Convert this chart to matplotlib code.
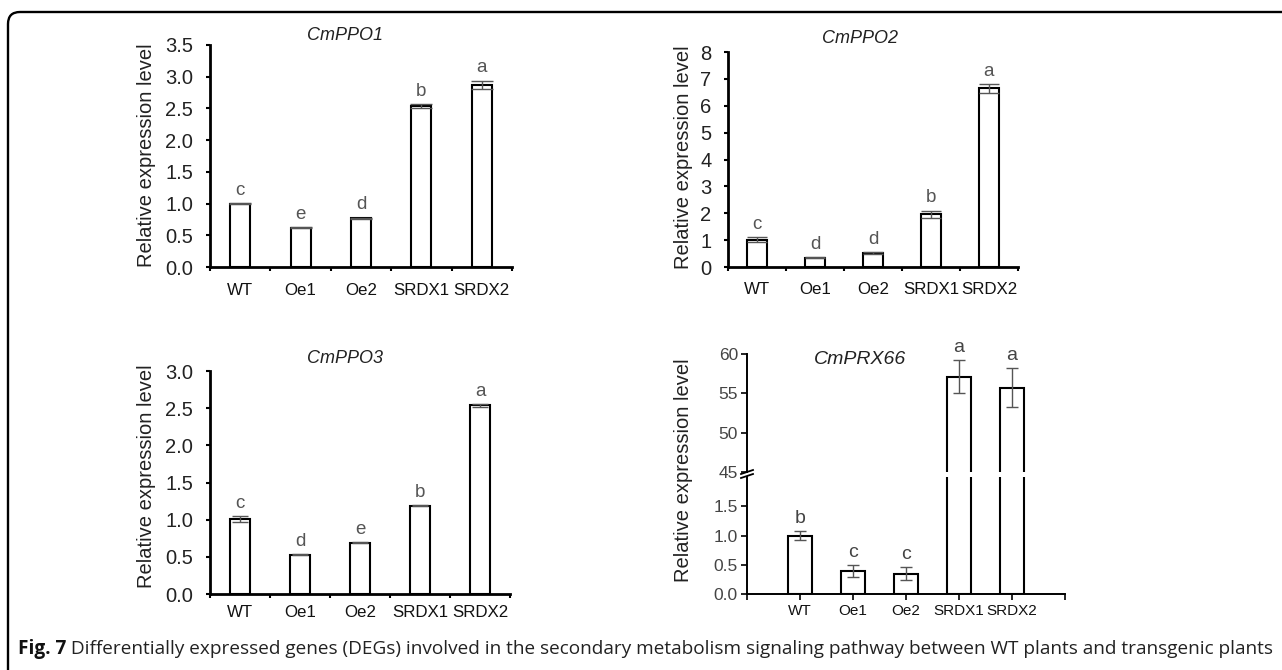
import numpy as np
import matplotlib
matplotlib.use("Agg")
import matplotlib.pyplot as plt
from matplotlib.patches import FancyBboxPatch
from matplotlib.transforms import IdentityTransform
from matplotlib.lines import Line2D

# ---------------- data ----------------
lines = ["WT", "Oe1", "Oe2", "SRDX1", "SRDX2"]

ppo1_mean = [1.00, 0.62, 0.77, 2.54, 2.87]
ppo1_err = [0.01, 0.01, 0.01, 0.03, 0.07]
ppo1_sig = ["c", "e", "d", "b", "a"]

ppo2_mean = [1.02, 0.35, 0.52, 1.97, 6.65]
ppo2_err = [0.08, 0.01, 0.02, 0.13, 0.17]
ppo2_sig = ["c", "d", "d", "b", "a"]

ppo3_mean = [1.01, 0.53, 0.69, 1.19, 2.54]
ppo3_err = [0.04, 0.01, 0.005, 0.01, 0.02]
ppo3_sig = ["c", "d", "e", "b", "a"]

prx_mean = [1.00, 0.39, 0.35, 57.1, 55.7]
prx_err = [0.07, 0.10, 0.11, 2.1, 2.5]
prx_sig = ["b", "c", "c", "a", "a"]

caption_bold = "Fig. 7"
caption_text = (" Differentially expressed genes (DEGs) involved in the secondary metabolism "
                "signaling pathway between WT plants and transgenic plants")

# ---------------- figure ----------------
plt.rcParams["font.family"] = ["Liberation Sans", "DejaVu Sans"]
W, H = 1282, 670
fig = plt.figure(figsize=(W / 100, H / 100), dpi=100)


def add_ax(l, t, r, b):
    return fig.add_axes([l / W, 1 - b / H, (r - l) / W, (b - t) / H])


# rounded frame
frame = FancyBboxPatch((8, -40), 1400, H - 12 + 40, boxstyle="round,pad=0,rounding_size=12",
                       transform=IdentityTransform(), facecolor="none", edgecolor="black",
                       linewidth=1.7)
fig.patches.append(frame)


def excel_panel(box, means, errs, sigs, ymax, ystep, fmt, bw, title, title_xy, xpad, capsize):
    ax = add_ax(*box)
    x = np.arange(len(lines))
    ax.bar(x, means, width=bw, color="white", edgecolor="black", linewidth=1.5, zorder=2)
    ax.errorbar(x, means, yerr=errs, fmt="none", ecolor="#555555", elinewidth=1,
                capsize=capsize, capthick=1, zorder=3)
    ax.set_xlim(-0.5, len(lines) - 0.5)
    ax.set_ylim(0, ymax)
    ticks = np.arange(0, ymax + ystep / 2, ystep)
    ax.set_yticks(ticks)
    ax.set_yticklabels([fmt.format(v) for v in ticks])
    ax.set_xticks(np.arange(-0.5, len(lines), 1.0))
    ax.set_xticklabels([])
    ax.set_xticks(x, minor=True)
    ax.set_xticklabels(lines, minor=True, fontsize=12.2)
    for s in ["top", "right"]:
        ax.spines[s].set_visible(False)
    for s in ["left", "bottom"]:
        ax.spines[s].set_linewidth(2.0)
    ax.tick_params(axis="y", which="major", direction="out", length=3, width=1.5,
                   labelsize=14.5, pad=9, labelcolor="#222222")
    ax.tick_params(axis="x", which="major", direction="out", length=3, width=1.5)
    ax.tick_params(axis="x", which="minor", length=0, pad=xpad, labelcolor="#111111")
    for xi, m, e, s in zip(x, means, errs, sigs):
        ax.annotate(s, (xi, m + e), xytext=(0, 3), textcoords="offset points",
                    ha="center", va="bottom", fontsize=13.5, color="#555555")
    ax.text(title_xy[0], title_xy[1], title, transform=ax.transAxes, ha="center", va="center",
            fontsize=13, style="italic", color="#222222")
    ax.patch.set_alpha(0)
    return ax


ax1 = excel_panel((210, 45, 512, 267), ppo1_mean, ppo1_err, ppo1_sig, 3.5, 0.5, "{:.1f}",
                  0.33, "CmPPO1", (0.447, 1.045), 11.5, 8)
ax2 = excel_panel((728, 52, 1018, 267), ppo2_mean, ppo2_err, ppo2_sig, 8, 1, "{:.0f}",
                  0.33, "CmPPO2", (0.455, 1.065), 11, 7)
ax3 = excel_panel((210, 371, 510, 594), ppo3_mean, ppo3_err, ppo3_sig, 3.0, 0.5, "{:.1f}",
                  0.33, "CmPPO3", (0.45, 1.058), 8, 6)

ylab = "Relative expression level"
for (lx, ly) in [(147, 155), (683, 157), (147, 476), (683, 470)]:
    fig.text(lx / W, 1 - ly / H, ylab, rotation=90, ha="center", va="center",
             fontsize=14.5, color="#222222")

# ---------------- broken-axis panel (CmPRX66) ----------------
axt = add_ax(747, 354, 1065, 472)
axb = add_ax(747, 477, 1065, 594)
xp = np.arange(1, len(lines) + 1)
for ax in (axt, axb):
    ax.bar(xp, prx_mean, width=0.45, color="white", edgecolor="black", linewidth=1.5, zorder=2)
    ax.errorbar(xp, prx_mean, yerr=prx_err, fmt="none", ecolor="#555555", elinewidth=1,
                capsize=4.5, capthick=1, zorder=3)
    ax.set_xlim(0, len(lines) + 1)
    for s in ["top", "right"]:
        ax.spines[s].set_visible(False)
    ax.spines["left"].set_linewidth(1.4)
    ax.spines["bottom"].set_linewidth(1.4)
    ax.tick_params(axis="both", direction="out", length=4.5, width=1.2, labelsize=12.5,
                   labelcolor="#444444", pad=2)
    ax.patch.set_alpha(0)

axt.set_ylim(45, 60)
axt.set_yticks([45, 50, 55, 60])
axt.spines["bottom"].set_visible(False)
axt.set_xticks([])
axb.set_ylim(0, 2.0)
axb.set_yticks([0.0, 0.5, 1.0, 1.5])
axb.set_yticklabels(["0.0", "0.5", "1.0", "1.5"])
axb.set_xticks(np.arange(0, len(lines) + 2))
axb.set_xticklabels([""] + lines + [""], fontsize=11.0)
axb.tick_params(axis="x", labelcolor="#111111", pad=2.5)

for xi, m, e, s in zip(xp, prx_mean, prx_err, prx_sig):
    target = axt if m > 45 else axb
    target.annotate(s, (xi, m + e), xytext=(0, 3), textcoords="offset points",
                    ha="center", va="bottom", fontsize=14, color="#444444",
                    annotation_clip=False)
axt.text(0.355, 0.95, "CmPRX66", transform=axt.transAxes, ha="center", va="center",
         fontsize=14, style="italic", color="#222222")

# break marks on the y axis
pos = axb.get_position()
bx = pos.x0 * W
by = pos.y1 * H
for dy in (0, 4):
    fig.lines.append(Line2D([bx - 6, bx + 6], [by - 1 + dy, by + 3 + dy],
                            transform=IdentityTransform(), color="black", linewidth=1.3))

# ---------------- caption ----------------
cap_y = 1 - 649 / H
cap_fs = 13.7
t1 = fig.text(18 / W, cap_y, caption_bold, fontsize=cap_fs, fontweight="bold",
              family=["Open Sans", "DejaVu Sans"], va="center", ha="left", color="#111111")
fig.canvas.draw()
r = fig.canvas.get_renderer()
bb = t1.get_window_extent(r)
t2 = fig.text(bb.x1 / W, cap_y, caption_text, fontsize=cap_fs,
              family=["Open Sans", "DejaVu Sans"], va="center", ha="left", color="#222222")

fig.savefig("out.png", dpi=100)
